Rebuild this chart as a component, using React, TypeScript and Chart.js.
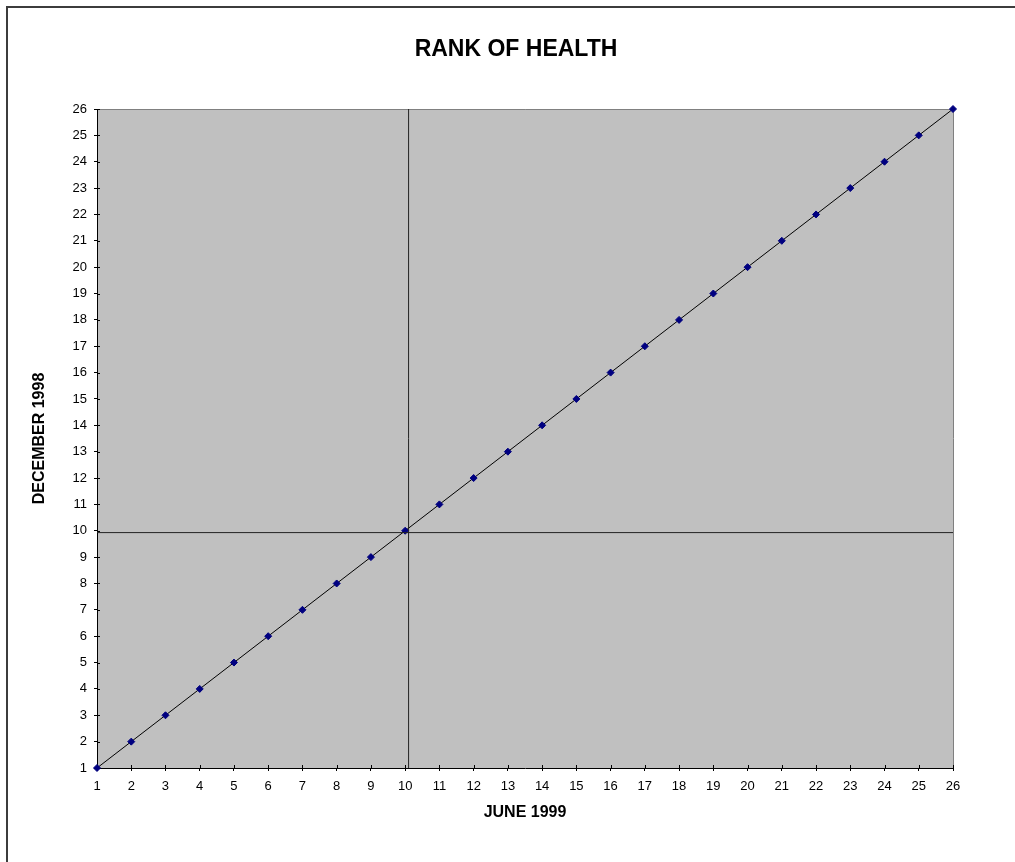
import React, { useEffect, useRef } from 'react';
import { Chart, registerables } from 'chart.js';

Chart.register(...registerables);

// Ranks per item: June 1999 (x) vs December 1998 (y)
const juneRanks = [1, 2, 3, 4, 5, 6, 7, 8, 9, 10, 11, 12, 13, 14, 15, 16, 17, 18, 19, 20, 21, 22, 23, 24, 25, 26];
const decemberRanks = [1, 2, 3, 4, 5, 6, 7, 8, 9, 10, 11, 12, 13, 14, 15, 16, 17, 18, 19, 20, 21, 22, 23, 24, 25, 26];

// Reference (average) lines
const juneAverage = 10.1;
const decemberAverage = 9.93;

const axisMin = 1;
const axisMax = 26;

const chartTitle = 'RANK OF HEALTH';
const xAxisTitle = 'JUNE 1999';
const yAxisTitle = 'DECEMBER 1998';

const FONT = "'Liberation Sans', Arial, Helvetica, sans-serif";

export default function App() {
  const ref = useRef<HTMLCanvasElement>(null);

  useEffect(() => {
    if (!ref.current) return;

    const plotDecor = {
      id: 'plotDecor',
      beforeDraw(chart: any) {
        const { ctx, chartArea: a } = chart;
        ctx.save();
        ctx.fillStyle = '#C0C0C0';
        ctx.fillRect(a.left, a.top, a.right - a.left, a.bottom - a.top);
        ctx.restore();
      },
      beforeDatasetsDraw(chart: any) {
        const { ctx, chartArea: a, scales } = chart;
        ctx.save();
        // gray top/right frame
        ctx.strokeStyle = '#808080';
        ctx.lineWidth = 1;
        ctx.beginPath();
        ctx.moveTo(Math.round(a.left), Math.round(a.top) + 0.5);
        ctx.lineTo(Math.round(a.right) + 0.5, Math.round(a.top) + 0.5);
        ctx.lineTo(Math.round(a.right) + 0.5, Math.round(a.bottom));
        ctx.stroke();
        // inward halves of cross ticks
        ctx.strokeStyle = '#000';
        ctx.beginPath();
        for (let v = axisMin; v <= axisMax; v++) {
          const y = Math.round(scales.y.getPixelForValue(v)) + 0.5;
          ctx.moveTo(a.left, y);
          ctx.lineTo(a.left + 3, y);
          const x = Math.round(scales.x.getPixelForValue(v)) + 0.5;
          ctx.moveTo(x, a.bottom);
          ctx.lineTo(x, a.bottom - 3);
        }
        ctx.stroke();
        ctx.restore();
      },
      afterDraw(chart: any) {
        const { ctx } = chart;
        ctx.save();
        ctx.fillStyle = '#000';
        ctx.font = `bold 23px ${FONT}`;
        ctx.textAlign = 'center';
        ctx.textBaseline = 'middle';
        ctx.fillText(chartTitle, 516, 50);
        ctx.restore();
      },
    };

    const points = juneRanks.map((x, i) => ({ x, y: decemberRanks[i] }));

    const chart = new Chart(ref.current, {
      type: 'scatter',
      data: {
        datasets: [
          {
            label: 'June average',
            data: [
              { x: juneAverage, y: axisMin },
              { x: juneAverage, y: axisMax },
            ],
            showLine: true,
            borderColor: '#222222',
            borderWidth: 1,
            pointRadius: 0,
          },
          {
            label: 'December average',
            data: [
              { x: axisMin, y: decemberAverage },
              { x: axisMax, y: decemberAverage },
            ],
            showLine: true,
            borderColor: '#222222',
            borderWidth: 1,
            pointRadius: 0,
          },
          {
            label: 'Rank',
            data: points,
            showLine: true,
            borderColor: '#000000',
            borderWidth: 1,
            pointStyle: 'rectRot',
            pointRadius: 3.5,
            pointBackgroundColor: '#000080',
            pointBorderColor: '#000080',
            pointBorderWidth: 1,
            clip: false as any,
          },
        ],
      },
      options: {
        responsive: false,
        animation: false,
        devicePixelRatio: 1,
        layout: { padding: { left: 0, top: 109, right: 62, bottom: 0 } },
        plugins: {
          legend: { display: false },
          tooltip: { enabled: false },
          title: { display: false },
        },
        scales: {
          x: {
            type: 'linear',
            min: axisMin,
            max: axisMax,
            afterFit(scale: any) {
              scale.height = 94;
            },
            ticks: {
              stepSize: 1,
              color: '#000',
              padding: 8,
              maxRotation: 0,
              autoSkip: false,
              font: { family: FONT, size: 13 },
            },
            grid: {
              drawOnChartArea: false,
              drawTicks: true,
              tickLength: 3,
              color: '#000',
            },
            border: { display: true, color: '#000', width: 1 },
            title: {
              display: true,
              text: xAxisTitle,
              color: '#000',
              font: { family: FONT, size: 16, weight: 'bold' },
              padding: { top: 0, bottom: 40 },
            },
          },
          y: {
            type: 'linear',
            min: axisMin,
            max: axisMax,
            afterFit(scale: any) {
              scale.width = 97;
            },
            ticks: {
              stepSize: 1,
              color: '#000',
              padding: 7,
              autoSkip: false,
              font: { family: FONT, size: 13 },
            },
            grid: {
              drawOnChartArea: false,
              drawTicks: true,
              tickLength: 3,
              color: '#000',
            },
            border: { display: true, color: '#000', width: 1 },
            title: {
              display: true,
              text: yAxisTitle,
              color: '#000',
              font: { family: FONT, size: 16, weight: 'bold' },
              padding: { top: 30, bottom: 0 },
            },
          },
        },
      },
      plugins: [plotDecor],
    });

    return () => chart.destroy();
  }, []);

  return (
    <div
      style={{
        position: 'fixed',
        left: 0,
        top: 0,
        width: 1015,
        height: 862,
        overflow: 'hidden',
        background: '#fff',
      }}
    >
      <div
        style={{
          position: 'absolute',
          left: 6,
          top: 6,
          right: 0,
          bottom: 0,
          borderTop: '2px solid #3c3c3c',
          borderLeft: '2px solid #3c3c3c',
        }}
      />
      <canvas
        ref={ref}
        width={1015}
        height={862}
        style={{ position: 'absolute', left: 0, top: 0, width: 1015, height: 862 }}
      />
    </div>
  );
}
